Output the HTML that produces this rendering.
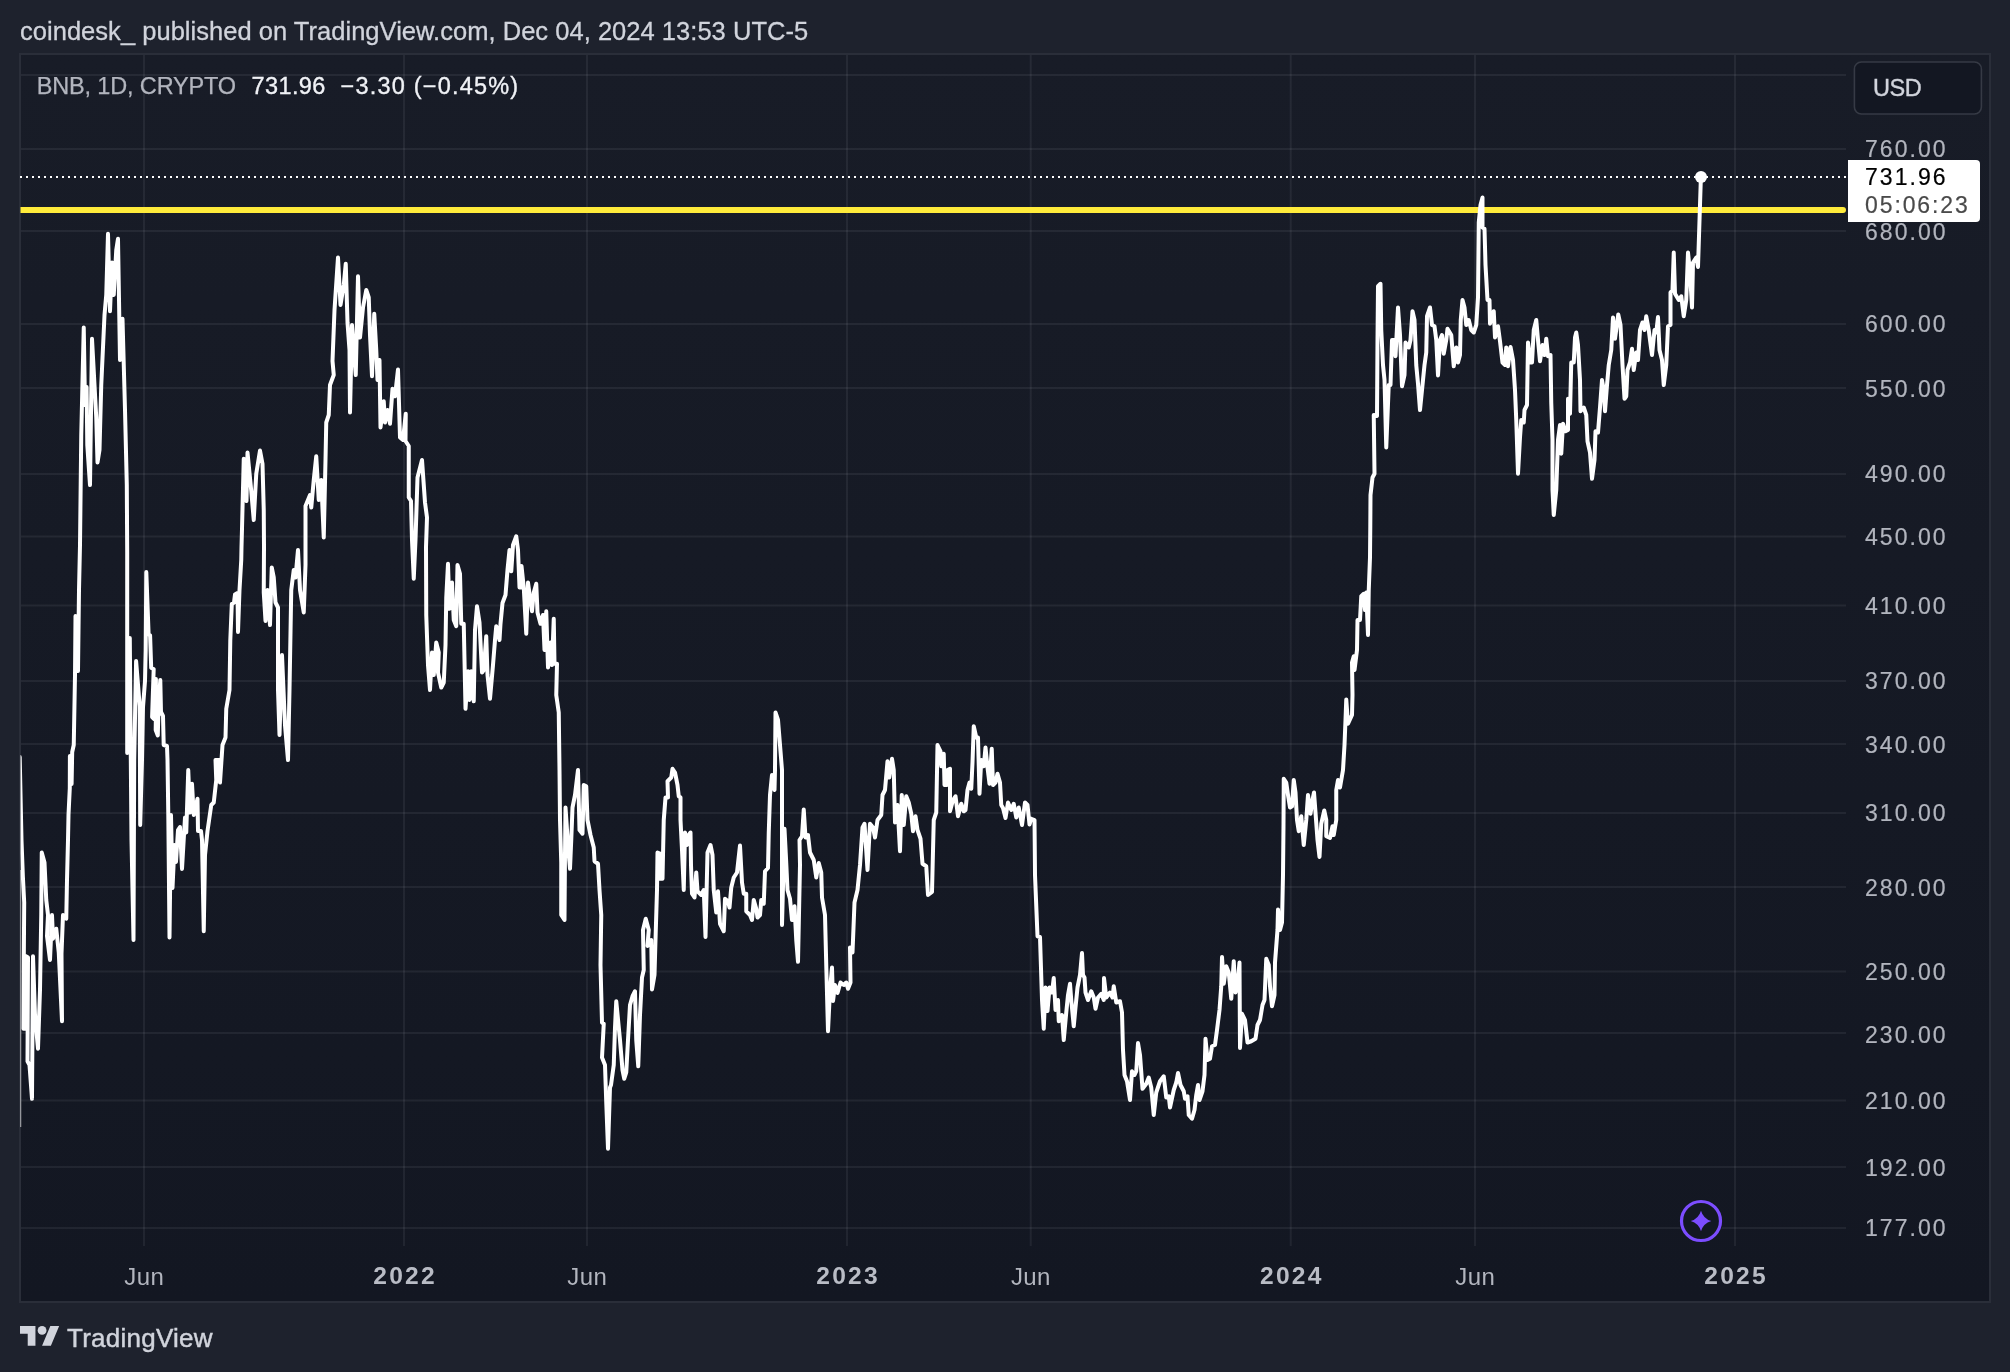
<!DOCTYPE html><html><head><meta charset="utf-8"><style>

html,body{margin:0;padding:0}
body{width:2010px;height:1372px;background:#1e222d;position:relative;overflow:hidden;font-family:"Liberation Sans",sans-serif}
.t{position:absolute;white-space:pre;line-height:1}
.yl{position:absolute;left:1865px;font-size:23px;letter-spacing:2.05px;color:#b2b5be;line-height:1;white-space:pre;-webkit-text-stroke:0.2px currentColor}
.xl{position:absolute;font-size:24px;color:#b2b5be;line-height:1;white-space:pre;transform:translateX(-50%);letter-spacing:0.4px;padding-left:0.4px}
.xl.b{font-weight:bold;font-size:24.6px;letter-spacing:2.2px;padding-left:2.2px;color:#b9bcc5;margin-top:-0.5px}

</style></head><body>
<svg width="2010" height="1372" viewBox="0 0 2010 1372" style="position:absolute;left:0;top:0">
<defs><linearGradient id="bg" x1="0" y1="0" x2="0" y2="1"><stop offset="0" stop-color="#181c27"/><stop offset="1" stop-color="#131722"/></linearGradient><clipPath id="cp"><rect x="20.5" y="55" width="1826" height="1190"/></clipPath></defs>
<rect x="20" y="54" width="1970" height="1248" fill="url(#bg)"/>
<rect x="21" y="74" width="1825" height="2" fill="#f0f3fa" fill-opacity="0.065"/>
<rect x="21" y="148" width="1825" height="2" fill="#f0f3fa" fill-opacity="0.065"/>
<rect x="21" y="230" width="1825" height="2" fill="#f0f3fa" fill-opacity="0.065"/>
<rect x="21" y="323" width="1825" height="2" fill="#f0f3fa" fill-opacity="0.065"/>
<rect x="21" y="387" width="1825" height="2" fill="#f0f3fa" fill-opacity="0.065"/>
<rect x="21" y="473" width="1825" height="2" fill="#f0f3fa" fill-opacity="0.065"/>
<rect x="21" y="535.5" width="1825" height="2" fill="#f0f3fa" fill-opacity="0.065"/>
<rect x="21" y="604.5" width="1825" height="2" fill="#f0f3fa" fill-opacity="0.065"/>
<rect x="21" y="680" width="1825" height="2" fill="#f0f3fa" fill-opacity="0.065"/>
<rect x="21" y="743" width="1825" height="2" fill="#f0f3fa" fill-opacity="0.065"/>
<rect x="21" y="812" width="1825" height="2" fill="#f0f3fa" fill-opacity="0.065"/>
<rect x="21" y="886" width="1825" height="2" fill="#f0f3fa" fill-opacity="0.065"/>
<rect x="21" y="970.5" width="1825" height="2" fill="#f0f3fa" fill-opacity="0.065"/>
<rect x="21" y="1032" width="1825" height="2" fill="#f0f3fa" fill-opacity="0.065"/>
<rect x="21" y="1099.5" width="1825" height="2" fill="#f0f3fa" fill-opacity="0.065"/>
<rect x="21" y="1166" width="1825" height="2" fill="#f0f3fa" fill-opacity="0.065"/>
<rect x="21" y="1227" width="1825" height="2" fill="#f0f3fa" fill-opacity="0.065"/>
<rect x="143" y="55" width="2" height="1191" fill="#f0f3fa" fill-opacity="0.065"/>
<rect x="403" y="55" width="2" height="1191" fill="#f0f3fa" fill-opacity="0.065"/>
<rect x="586" y="55" width="2" height="1191" fill="#f0f3fa" fill-opacity="0.065"/>
<rect x="846" y="55" width="2" height="1191" fill="#f0f3fa" fill-opacity="0.065"/>
<rect x="1029.7" y="55" width="2" height="1191" fill="#f0f3fa" fill-opacity="0.065"/>
<rect x="1289.7" y="55" width="2" height="1191" fill="#f0f3fa" fill-opacity="0.065"/>
<rect x="1474" y="55" width="2" height="1191" fill="#f0f3fa" fill-opacity="0.065"/>
<rect x="1734" y="55" width="2" height="1191" fill="#f0f3fa" fill-opacity="0.065"/>
<rect x="20" y="54" width="1970" height="1248" fill="none" stroke="#2a2e39" stroke-width="2"/>
<line x1="10" y1="210" x2="1843" y2="210" stroke="#ffeb3b" stroke-width="6" stroke-linecap="round" clip-path="url(#cp)"/>
<line x1="20" y1="177" x2="1846" y2="177" stroke="#ffffff" stroke-width="2" stroke-dasharray="2 4"/>
<g clip-path="url(#cp)"><polyline points="19.7,757 21.5,840 22.9,877 24.2,902.5 23.8,960 23.5,1028.75 25.5,1028.75 25.5,956 28,957.5 27.5,1061.25 29.5,1065 32,1098.75 33,956.25 35,1015 38,1048.75 40,990 41.25,915 41.75,852.5 44.5,862.5 46.25,900 48,915 47,936 50,960 52,915 53,938.75 56.25,928.75 58.75,952.5 62,1021.25 61.5,953.75 63,915 66.25,918.75 67,880 68,840 68.5,815 69.8,788 69.9,756 71.6,784 72.2,752 73.75,745 75,675 75.5,616 78,671 79,590 80,545 81.25,435 83.75,327.5 85,405 86.6,387 87.3,445 90,485 92,338.75 96.25,417.5 97.5,462.5 99.5,450 101.25,385 104.5,315 106.25,295 108,233.75 110,311.25 112,262.5 113.75,295 116.25,250 118,238.75 120,360 122.5,318.75 125,410 126.8,485 127.2,553 127.2,615 127.2,753 129.8,638 130.8,760 131.5,840 133.5,940 134.2,760 136.1,661 139.7,706 139.9,750 140.2,825 142,760 143,707 145,681 145.7,650 146.3,572 148.6,634 150.1,635.5 151.2,668 153.7,669 152.1,717 154.1,719 155.9,679 156,705 155.7,730 157.8,735.5 158.6,705 160.3,680 161,712 163,716 163.7,745 167,746 167.5,760 168.3,815 169.5,937.5 171,815 172.5,888 174.5,845 176,862 178,830 180,827 182,869 185,817.5 186.25,832.5 188.25,770 190,812.5 192,783.75 193.75,815 197.5,798.75 198,831 201,831 202,840 203.75,931.25 205,855 207.5,831 211.25,805 213.75,802.5 216.25,780 215.5,760 219.5,760 220,782.5 222.5,745 225.5,737.5 226.25,708.75 229.5,690 230.3,640 231.8,604 234,602.5 235,594.5 237.5,593 238,632 239.5,590 241.25,560 241.5,547 242,528.75 243.75,458.75 246.5,501 247.5,452.5 251.25,491 253.75,520 256.25,473.75 260,450.5 262.5,463.75 263.75,510 264,547 263.75,592.5 265.5,621 267.5,590 270,625 271.75,567.5 273.75,577.5 275.5,602.5 278,607.5 278,690 279.5,735 282,655 285,725 288,760 289.5,690 291.25,590 293.75,570 295.5,577.5 298,550 300,590 303.75,612.5 305.5,565 305.5,547 305.5,506 310,495 311.25,507.5 313.75,480 316.25,456.25 318.75,500 321.25,480 323.75,537.5 325.5,460 326.25,422.5 328.75,415 330,385 333.75,375 332.5,361 334.5,310 338,257.5 340.5,305 343.75,285 345.75,263.75 347.5,322.5 349.5,350 350,412.5 352,325 353.75,350 355.75,375 358,276.25 360,337.5 363,307.5 366.25,290 368.75,297.5 370,335 372,376.25 374.25,313.75 376.25,350 377.5,380 379.5,360 380.5,427.5 383.75,401.25 385,422.5 387.5,410 390,423.75 392.5,388.75 395,396.25 398,369.5 400,437.5 403,440 405.75,413.75 405.5,441 408.75,446 408.75,497.5 411,501 412,540 413.75,578.75 415.5,540 417.5,477.5 422,460 425,502.5 427,517.5 426,547 426.25,615 428,665 430,690 432,652.5 433.75,675 436.25,642.5 438.75,652.5 438,672.5 441.25,687.5 443.75,682.5 445.5,645 446.25,597.5 448,563.75 449.5,608.75 452,582.5 453.75,620 456.25,626.25 457.5,565 460,573.75 461.25,623.75 463.75,623.75 465.5,708.75 468,671.25 469.5,700 471.25,671.25 473.75,701.25 475,630 477,606.25 479.5,622.5 482,672.5 483.75,670 486.25,636.25 487.5,675 490,698.75 493,665 495,640 496.25,626.25 499.5,640 500.5,623.75 502.5,603 505.5,595 507.5,570 509.5,550 511.25,571.25 513,545 516.25,536.25 518,550 519.5,587.5 522,587.5 521.5,566 523.75,587.5 526.25,633.75 528,582.5 530,597.5 532,611.25 533.75,592.5 536.25,583.75 537.5,612.5 540.5,623.75 543,615 544.5,650 546.25,611.25 548,667.5 550.5,642.5 552,665 553.75,618.75 554.5,663.75 557,663.75 556.25,695 558.75,712.5 559.5,770 560,820 561.25,863 561.25,915 564.5,920 565,855 565.5,807.5 568,845 570,868.75 571.25,840 572.5,807.5 575,795 578,770 579.5,830 582.5,833.75 583.75,785 586.25,786.25 587.5,820 590.5,835 593.75,847.5 594.5,861.25 598,863.75 599.5,890 601.25,915 600.5,965 602,1022.5 603.75,1023.75 602,1057.5 605,1065 606.25,1102.5 608,1148.75 610,1087.5 611,1085 613.75,1065 615,1027.5 616.25,1001.25 620,1040 622.5,1070 624.25,1078.75 626.25,1072.5 628,1040 630,1005 632.5,996.25 635,991.25 636.25,1040 638.25,1066.25 640,1015 642,977.5 643.75,970 643,930 645.75,918.75 648.75,930 647.5,946 651.25,940 652,989.5 654.5,975 655.5,940 657,890 657.5,852.5 660.5,853.75 660,878.75 662.5,878.75 663.75,820 665.5,797.5 668,797.5 667.5,781.25 671.25,777.5 672.5,768.75 675,772.5 677.5,785 678.75,796.25 680.5,797.5 680.5,820 682,850 683.75,890 685,832.5 687,845 688.75,835 690.5,832.5 691,865 692,893.75 694.5,897.5 696.25,872.5 697.5,891.25 701.25,895 703.75,890 705.5,937 707.5,852.5 710.5,845 712.5,855 713.75,890 716.25,912.5 718,891.25 720,923.75 723.75,931.25 725,898.75 728,901.25 729.5,907.5 731.25,887.5 733.75,877.5 737,872.5 740,845.5 742,882.5 743.75,893.75 746.25,893.75 746.25,911.25 750,915 752,920 753.75,900 756.25,908.75 757.5,917.5 760,915 761.25,900 763.75,903.75 765,871.25 768,868 768.75,832.5 770,795 772,775 774.5,790 775,770 775.5,712.5 778,720 780,745 782,770 782,925 784.5,828.75 786.25,863 787.5,890 790,898.75 792,920 794.5,906.25 796.25,940 798,961.75 800,865 799.5,840 802,836.25 803.75,809.5 805.5,837.5 808,835 810,852.5 813.75,860 816.25,877.5 818.75,863 821.25,872.5 822,897.5 825,915 826.25,965 828,1031.25 830,990 832,967.5 833,1001 835,985 837.5,993 840.5,982.5 843.75,985 846.25,982.5 848,988.75 850.5,982.5 850,947.5 852.5,952.5 854.5,902.5 857.5,890 860,865 862.5,827.5 864.5,823.75 867.5,870 870,823.75 873,827.5 875,837.5 877.5,820 881.25,815 882.5,795 885,790 887.5,761.25 889.25,777.5 892,758.75 893.75,770 895,822.5 897.5,805 900,851.25 901.75,795 903.75,825 906.25,796.25 908.75,802.5 911.25,813.75 913,831.25 915.5,816.25 917.5,830 920.5,838.75 922.5,863.75 926.25,866.25 928,895 932,892 933.75,820 936.25,812.5 937.5,745 940.5,751.25 941.25,766.25 943.75,753.75 944.5,785 947,785 947.5,770 950,768.75 950,811.25 953,800 955.5,796.25 958,816.25 961.25,803.75 963.75,811.25 965.5,810 967.5,790 969.5,782.5 971.25,788.75 972.5,762.5 973.75,726.25 976.25,737.5 978,737.5 979.5,793.75 981.25,760 983.75,766.25 985.5,747.5 987.5,767.5 989.5,783.75 991.75,748.75 993,785 995.5,782.5 997.5,773.75 1000,782.5 1001.25,805 1003,808 1005.5,818 1008,802.5 1011.25,810 1013.75,803.75 1016.25,817.5 1018.75,807.5 1022,825 1025,802.5 1027.5,805 1029.5,824.5 1031.25,818.75 1034.5,820 1035,875 1037.5,936.25 1040,937 1042,1000 1043.75,1028.75 1045.5,987.5 1047.5,1011 1049.5,987.5 1052,992.5 1053.75,978 1055.5,1010 1058,1000 1058.75,1021.25 1062,1015 1063.75,1040 1066.25,1012.5 1068,995 1070,983.75 1071.25,1000 1073.75,1026.25 1075.5,1007.5 1077.5,987.5 1080,975 1082,953 1083,975 1084.5,977.5 1085.5,992.5 1088,1000 1091.25,991.25 1093.75,997.5 1095.5,1008.75 1098,997.5 1101.25,993.75 1103.75,1000 1104,978 1106.25,997.5 1110,992.5 1112.5,997.5 1113.75,986.25 1116.25,1002.5 1120,1001.25 1122,1012.5 1123,1050 1124.5,1075 1127,1081.25 1130,1100 1132,1071.25 1134.5,1075 1136.25,1071.25 1138,1043 1140,1055 1142.5,1088.75 1146.25,1083.75 1148.75,1077.5 1151.25,1087.5 1153.75,1115 1156.25,1092.5 1160,1081.25 1163.75,1076.25 1166.25,1097.5 1168.75,1096.25 1170,1107.5 1173.75,1090 1176.25,1082.5 1178,1073 1180.5,1085 1183.75,1091.25 1185,1098.75 1187.5,1096.25 1188.75,1115 1192,1118.75 1194.5,1110 1196.25,1095 1198,1085 1199.5,1100 1202.5,1091.25 1204.5,1075 1205.5,1038.75 1207.5,1060 1210,1058.75 1212,1046.25 1215,1045 1217,1030 1219.5,1010 1221.25,986.25 1222,957 1223.75,983.75 1226.25,966.25 1228.75,972.5 1231.25,998.75 1233.75,961.25 1235.5,992.5 1237.5,985 1239.5,962.5 1240,1048 1242,1013.75 1245,1020 1247.5,1042.5 1251.25,1041.25 1255.5,1038.75 1257.5,1025 1260,1020 1262.5,1005 1264.5,1000 1266.25,958.75 1268.75,965 1270,986.25 1272,1006.25 1274.5,995 1275,962.5 1277.5,930 1278,909.5 1280,930 1282,922.5 1283,875 1283.5,825 1283.75,778.75 1286.25,782.5 1288,795 1290,807.5 1292,806.25 1293.75,780 1295.5,792.5 1297,820 1298.75,831.25 1301.25,816.25 1303.75,845 1306.25,820 1308,795 1310.5,813.75 1312.5,800 1314,792.5 1315.5,812.5 1317.5,840 1319.5,857 1321.25,823.75 1324.25,810.5 1326.25,820 1326.25,836.25 1330,838 1332.5,826.25 1333.75,835 1336.25,820 1336.25,790 1338,780 1340,787.5 1343,770 1344.5,745 1345.5,720 1346.25,699.5 1348,723.75 1352,715 1352.5,695 1352,662.5 1353.75,656.25 1354.5,670 1357,650 1357.5,620 1360,620 1361.25,596.25 1363.75,593.75 1365,610 1366.25,592.5 1368,635 1368.75,590 1370,557.5 1370.3,526 1370.5,495 1372.5,477.5 1374.5,473.75 1373.75,415 1377,416 1377.5,340 1378,286.25 1380.5,283.75 1381.25,330 1383,365 1384.5,380 1386.25,447.5 1388.75,385 1390.5,385 1392,340 1394.5,340 1395.5,356.25 1398,307.5 1400,335 1402,386.25 1404.5,375 1405.5,342.5 1408.75,347.5 1410.5,340 1412.5,311.25 1414.5,320 1416.25,365 1418,383.75 1420,410 1422,390 1424.5,365 1426.25,352.5 1427,316.25 1430,307.5 1432,325 1434.5,326.25 1436.25,340 1438,375.5 1440,340 1442,335 1443.75,353.75 1446.25,340 1447.5,328.75 1451.25,335 1453.75,366.25 1456.25,347.5 1458,362.5 1460,355 1460.75,320 1462.5,300 1464.5,307.5 1466.25,325 1468.75,320 1471.25,330 1473.75,332.5 1476.25,325 1478,297.5 1478.75,222.5 1480.5,205 1482.5,197.5 1482.5,227.5 1484.5,228.75 1485.5,265 1487.5,300 1489.5,300 1490,323.75 1492.5,315 1493.75,311.25 1495,337.5 1498,326.25 1500,341.25 1502.5,362.5 1505,365 1506.25,347.5 1508,366.25 1510.5,347 1513,360 1515,390 1516.25,420 1518,473.75 1520,437.5 1521.25,420 1523.75,422.5 1524.5,410 1527,405 1528,342.5 1530.5,362.5 1532,362.5 1533.75,330 1536.25,320 1538,340 1540,361.25 1542.5,345 1544.5,355 1546.25,338.75 1548,356.25 1550.5,355 1551.25,402.5 1552.5,440 1552.5,490 1553.75,515 1556.25,490 1558,440 1560,425 1561.25,453.75 1563,423.75 1565.5,431.25 1568,430 1568,398.75 1570,413.75 1571.25,362.5 1573.75,362.5 1575,337.5 1576.25,332.5 1578,345 1580,380 1580.5,411.25 1583.75,407.5 1586.25,415 1587.5,441.25 1590,452.5 1592,478.75 1594.5,460 1595.5,431.25 1598,432.5 1600,407.5 1602,380 1603.75,390 1605,411.25 1607,385 1608.75,365 1611.25,350 1613,317.5 1615,338.75 1618.25,314.5 1620.5,325 1622.5,365 1624.5,398.75 1626.25,396.25 1627.5,370 1630,362.5 1632,348.75 1633.75,370 1636.25,352.5 1638,360 1640,330 1642.5,322.5 1644.5,330 1646.25,316.25 1648.75,330 1650,340 1652,355 1654.5,330 1656.25,332.5 1658,317 1659.5,350 1662,360 1663.75,385 1666.25,365 1668,326.25 1670.5,325 1670.5,292.5 1672.5,290 1673.75,252.5 1675,293.75 1678.75,300 1681.25,296.25 1683.75,316.25 1686.25,300 1688,252.5 1690,272.5 1692,307.5 1693,262.5 1696.25,257.5 1698,267 1700.9,177" fill="none" stroke="#ffffff" stroke-width="4" stroke-linejoin="round" stroke-linecap="round"/>
<line x1="19.15" y1="870" x2="19.15" y2="1127" stroke="#fff" stroke-width="4"/></g>
<circle cx="1701" cy="177" r="6" fill="#ffffff"/>
<g transform="translate(1701,1221)"><circle r="22" fill="#131823"/><circle r="19.5" fill="none" stroke="#7c4dff" stroke-width="3.2"/><path d="M0,-10.3 Q2.3,-2.3 10.3,0 Q2.3,2.3 0,10.3 Q-2.3,2.3 -10.3,0 Q-2.3,-2.3 0,-10.3Z" fill="#7c4dff"/></g>
<path d="M1848,160 H1976 a4,4 0 0 1 4,4 V218 a4,4 0 0 1 -4,4 H1848 Z" fill="#ffffff"/>
<rect x="1854.4" y="62" width="127" height="52" rx="7" fill="#131722" stroke="#363a45" stroke-width="1.6"/>
<g transform="translate(20,1326) scale(1.103)" fill="#d1d4dc"><path d="M14 18H7V7H0V0h14v18zM28 18h-8l7.5-18h8L28 18z"/><circle cx="20" cy="4" r="4"/></g>
</svg>
<div id="txt" style="position:absolute;left:0;top:0;width:2010px;height:1372px;will-change:transform">
<div class="t" id="hdr" style="left:20px;top:19.4px;font-size:25.5px;color:#d1d4dc;letter-spacing:0.03px;-webkit-text-stroke:0.3px #d1d4dc">coindesk_ published on TradingView.com, Dec 04, 2024 13:53 UTC-5</div>
<div class="t" id="sym" style="left:36.7px;top:74.5px;font-size:23.5px;color:#b2b5be;letter-spacing:-0.15px;-webkit-text-stroke:0.25px #b2b5be">BNB, 1D, CRYPTO</div>
<div class="t" id="val" style="left:251.5px;top:74.5px;font-size:23.5px;color:#f0f2f6;letter-spacing:0.4px;-webkit-text-stroke:0.35px #f0f2f6">731.96</div><div class="t" id="val2" style="left:340.5px;top:74.5px;font-size:23.5px;color:#f0f2f6;letter-spacing:1.2px;-webkit-text-stroke:0.35px #f0f2f6">−3.30 (−0.45%)</div>
<div class="t" id="usd" style="left:1873px;top:77px;font-size:23.5px;color:#d1d4dc;letter-spacing:-0.5px;-webkit-text-stroke:0.4px #d1d4dc">USD</div>
<div class="yl" style="top:138px">760.00</div>
<div class="yl" style="top:221px">680.00</div>
<div class="yl" style="top:313px">600.00</div>
<div class="yl" style="top:378px">550.00</div>
<div class="yl" style="top:463px">490.00</div>
<div class="yl" style="top:525.5px">450.00</div>
<div class="yl" style="top:594.5px">410.00</div>
<div class="yl" style="top:670px">370.00</div>
<div class="yl" style="top:734px">340.00</div>
<div class="yl" style="top:802px">310.00</div>
<div class="yl" style="top:877px">280.00</div>
<div class="yl" style="top:960.5px">250.00</div>
<div class="yl" style="top:1023.5px">230.00</div>
<div class="yl" style="top:1089.5px">210.00</div>
<div class="yl" style="top:1157px">192.00</div>
<div class="yl" style="top:1217px">177.00</div>
<div class="yl" id="pl1" style="top:165.5px;color:#000">731.96</div>
<div class="yl" id="pl2" style="top:193.5px;color:#4a4a4a;letter-spacing:1.9px">05:06:23</div>
<div class="xl" style="left:144px;top:1264.5px">Jun</div>
<div class="xl b" style="left:404px;top:1264.5px">2022</div>
<div class="xl" style="left:587px;top:1264.5px">Jun</div>
<div class="xl b" style="left:847px;top:1264.5px">2023</div>
<div class="xl" style="left:1030.7px;top:1264.5px">Jun</div>
<div class="xl b" style="left:1290.7px;top:1264.5px">2024</div>
<div class="xl" style="left:1475px;top:1264.5px">Jun</div>
<div class="xl b" style="left:1735px;top:1264.5px">2025</div>
<div class="t" id="tv" style="left:67px;top:1325px;font-size:26px;color:#d1d4dc;letter-spacing:0.25px;-webkit-text-stroke:0.45px #d1d4dc">TradingView</div>
</div>
</body></html>
